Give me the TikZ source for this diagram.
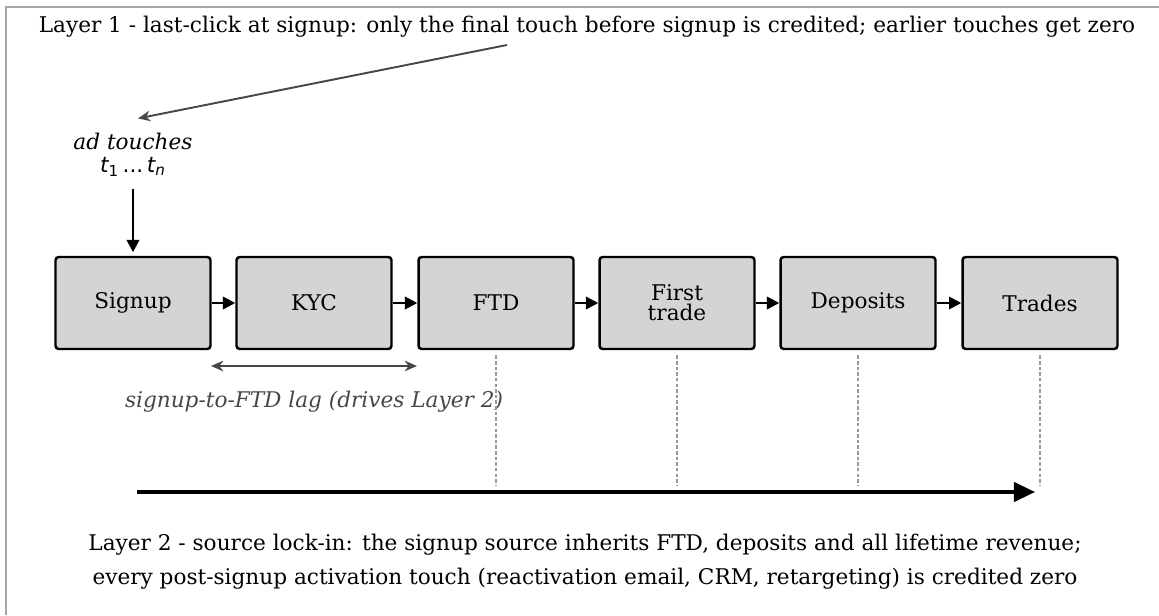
\documentclass[tikz,border=0pt]{standalone}
\usepackage{fontspec}
\setmainfont{DejaVu Serif}
\newfontfamily\tfont{DejaVu Sans}
\usepackage{tikz}
\usetikzlibrary{positioning,arrows.meta,calc}
\tikzset{
  >=Stealth,
}

\begin{document}
\begin{tikzpicture}[
  x=0.02cm,y=-0.02cm,
  every node/.style={font=\fontsize{12.3}{14.5}\selectfont},
  stage/.style={draw,line width=1.4pt,rounded corners=1.8pt,fill=black!17,
    minimum width=3.1cm,minimum height=1.84cm,align=center,inner sep=1pt},
  flow/.style={->,line width=1.4pt,>={Stealth[length=7pt,width=7pt,inset=0pt]}},
  note/.style={->,line width=1.1pt,draw=black!72,>={Stealth[length=7pt,width=6pt]}},
  guide/.style={draw=black!40,dashed,dash pattern=on 2pt off 1.2pt,line width=0.6pt},
  lab/.style={align=center}
]
\useasboundingbox (0,0) rectangle (1159,615);
\draw[black!35,line width=0.6pt] (6,615) |- (1159,7);

\node (title) at (587,27) {Layer 1 - last-click at signup: only the final touch before signup is credited; earlier touches get zero};

\node[stage] (signup) at (133,303) {Signup};
\node[stage] (kyc) at (314,303) {KYC};
\node[stage] (ftd) at (496,303) {FTD};
\node[stage] (first) at (677,303) {First\\[-3pt]trade};
\node[stage] (dep) at (858,303) {Deposits};
\node[stage] (trd) at (1040,303) {Trades};

\node[lab,font=\fontsize{12.3}{14.5}\selectfont\itshape] (touch) at (133,141) {ad touches};
\node[lab,inner sep=1pt] (tn) at (133,167) {{\tfont\itshape t}{\tfont\textsubscript{1}\,...\,}{\tfont\itshape t\textsubscript{n}}};
\coordinate (ann) at (507,45);

\draw[note] (ann) -- ($(touch.north)+(5,-8)$);
\draw[flow] ([yshift=-6pt]tn.south) -- ([yshift=2pt]signup.north);

\draw[flow] (signup) -- (kyc);
\draw[flow] (kyc) -- (ftd);
\draw[flow] (ftd) -- (first);
\draw[flow] (first) -- (dep);
\draw[flow] (dep) -- (trd);

% lag between signup and FTD
\coordinate (lagL) at (211,366);
\coordinate (lagR) at (417,366);
\draw[note,<->] (lagL) -- (lagR);
\node[text=black!72,font=\fontsize{12.3}{14.5}\selectfont\itshape] (lag) at (314,402) {signup-to-FTD lag (drives Layer 2)};

% timeline
\coordinate (tlS) at (137,492);
\coordinate (tlE) at (1035,492);
\draw[->,line width=2pt,>={Stealth[length=12pt,width=11pt,inset=0pt]}] (tlS) -- (tlE);
\foreach \n in {ftd,first,dep,trd}
  \draw[guide] ([yshift=-3pt]\n.south) -- ($(\n.south |- tlS)+(0,-7)$);

\node[align=center] (cap) at (585,562) {Layer 2 - source lock-in: the signup source inherits FTD, deposits and all lifetime revenue;\\[5pt]
every post-signup activation touch (reactivation email, CRM, retargeting) is credited zero};
\end{tikzpicture}
\end{document}
